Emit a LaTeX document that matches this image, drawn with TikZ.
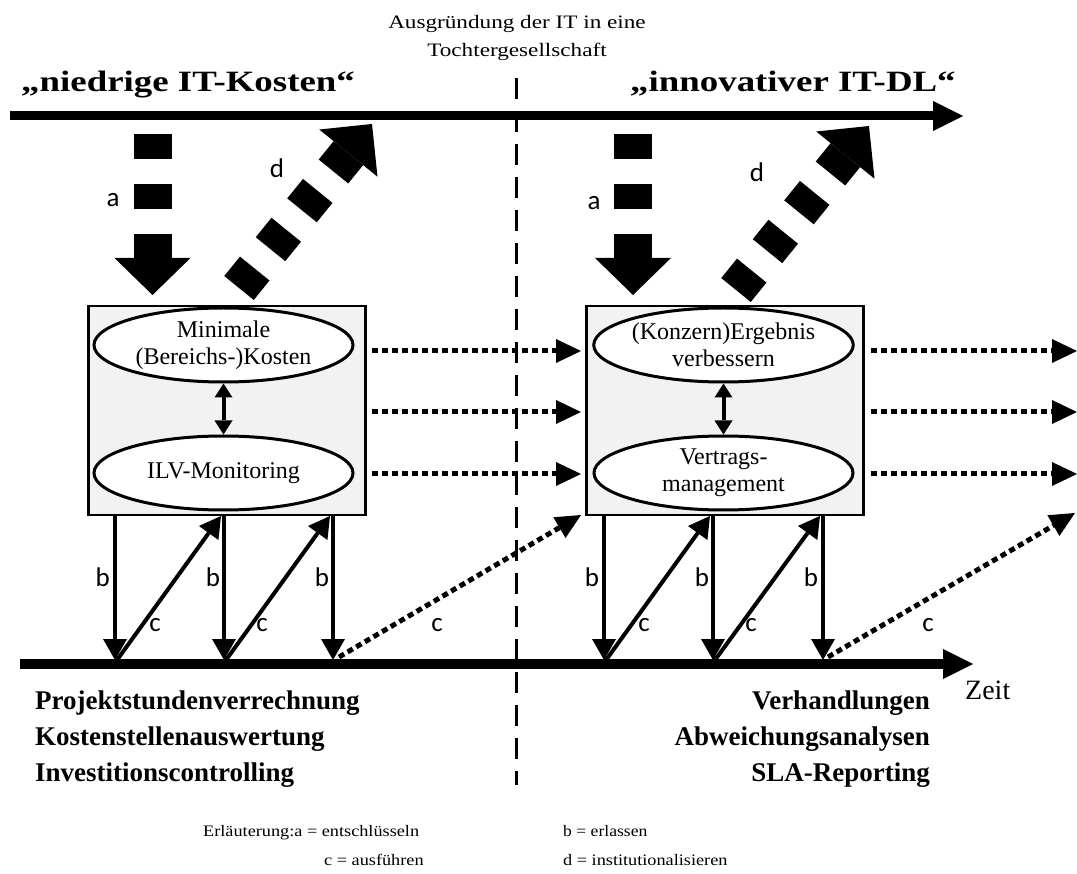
\documentclass[tikz,border=0pt]{standalone}
\usepackage{fontspec}
\setmainfont{Liberation Serif}
\newfontfamily\lblfont{Carlito}
\usetikzlibrary{calc,shapes.geometric}
\definecolor{boxgray}{HTML}{F2F2F2}

% straight connector with a filled triangular head at its end
% #1 style, #2 start, #3 tip, #4 head length, #5 half head width
\newcommand\headarrow[5][]{%
  \path ($(#3)!#4!(#2)$) coordinate (hb);
  \draw[#1] (#2) -- (hb);
  \fill ($(hb)!#5!90:(#3)$) -- (#3) -- ($(hb)!#5!-90:(#3)$) -- cycle;}
% the same with heads at both ends
\newcommand\bothheads[5][]{%
  \path ($(#2)!#4!(#3)$) coordinate (ha) ($(#3)!#4!(#2)$) coordinate (hb);
  \draw[#1] (ha) -- (hb);
  \fill ($(ha)!#5!90:(#2)$) -- (#2) -- ($(ha)!#5!-90:(#2)$) -- cycle;
  \fill ($(hb)!#5!90:(#3)$) -- (#3) -- ($(hb)!#5!-90:(#3)$) -- cycle;}

\tikzset{
  blockdash/.style={line width=38pt, dash pattern=on 25pt off 25pt},
  barrow/.style={line width=4pt},
  dotline/.style={line width=5pt, dash pattern=on 6pt off 4pt},
  divider/.style={line width=3pt, dash pattern=on 21pt off 12pt},
  frame/.style={draw, line width=2.5pt, fill=boxgray, minimum width=277pt,
    minimum height=209pt, inner sep=0pt, anchor=north west},
  goal/.style={ellipse, draw, line width=3pt, fill=white, minimum width=259pt,
    minimum height=74pt, inner sep=0pt, align=center,
    font=\fontsize{24}{27}\selectfont},
  letter/.style={font=\lblfont\fontsize{27}{30}\selectfont, inner sep=0pt},
  title/.style={anchor=base west, inner sep=0pt, font=\bfseries\fontsize{29.5}{34}\selectfont},
  head/.style={anchor=base, inner sep=0pt, font=\fontsize{19}{23}\selectfont},
  tool/.style={inner sep=0pt, font=\bfseries\fontsize{27}{32}\selectfont},
  legend/.style={anchor=base west, inner sep=0pt, font=\fontsize{16}{20}\selectfont},
}

\begin{document}
\begin{tikzpicture}[x=1pt,y=-1pt]
\useasboundingbox (0,0) rectangle (1077,874);

% ---------- headings ----------
\node[head] (hd1) at (517,29) {\scalebox{1.22}[1]{Ausgründung der IT in eine}};
\node[head] (hd2) at (517,57) {\scalebox{1.22}[1]{Tochtergesellschaft}};
\node[title] (t1) at (21,92) {\scalebox{1.25}[1]{„niedrige IT-Kosten“}};
\node[title] (t2) at (630,92) {\scalebox{1.25}[1]{„innovativer IT-DL“}};

% ---------- boxes with goals ----------
\node[frame] (box1) at (87,305) {};
\node[frame] (box2) at (585,305) {};
\node[goal] (g1) at (223.5,345) {Minimale\\(Bereichs-)Kosten};
\node[goal] (m1) at (223.5,473) {ILV-Monitoring};
\node[goal] (g2) at (723.5,345) {(Konzern)Ergebnis\\verbessern};
\node[goal] (m2) at (723.5,473) {Vertrags-\\management};
\bothheads[barrow]{g1.south}{m1.north}{14pt}{9pt}
\bothheads[barrow]{g2.south}{m2.north}{14pt}{9pt}

% ---------- phase divider ----------
\coordinate (divT) at (516,78);
\coordinate (divB) at (516,785);
\draw[divider] (divT) -- (divB);

% ---------- time axes ----------
\coordinate (topL) at (10,116);  \coordinate (topR) at (963,116);
\headarrow[line width=9pt]{topL}{topR}{30pt}{15pt}
\coordinate (botL) at (20,664);  \coordinate (botR) at (973,664);
\headarrow[line width=10pt]{botL}{botR}{30pt}{15pt}
\node[anchor=base west, inner sep=0pt, font=\fontsize{28}{32}\selectfont] (zeit) at (965,699) {Zeit};

% ---------- a: decode (dashed block arrows) ----------
\coordinate (a1s) at (152.5,134); \coordinate (a1t) at (152.5,295);
\coordinate (a2s) at (633,134);   \coordinate (a2t) at (633,295);
\headarrow[blockdash]{a1s}{a1t}{37pt}{38pt}
\headarrow[blockdash]{a2s}{a2t}{37pt}{38pt}
\node[letter] (la1) at (113,200) {a};
\node[letter] (la2) at (594,203) {a};

% ---------- d: institutionalise ----------
\coordinate (d1s) at (239,288); \coordinate (d1t) at (372,124);
\coordinate (d2s) at (736,290); \coordinate (d2t) at (869,126);
\headarrow[blockdash]{d1s}{d1t}{37.5pt}{37.5pt}
\headarrow[blockdash]{d2s}{d2t}{37.5pt}{37.5pt}
\node[letter] (ld1) at (277,168) {d};
\node[letter] (ld2) at (757,172) {d};

% ---------- dotted transfer arrows ----------
\foreach \y [count=\i] in {351,412,474}{
  \coordinate (pL\i) at (372,\y);  \coordinate (qL\i) at (581,\y);
  \coordinate (pR\i) at (871,\y);  \coordinate (qR\i) at (1077,\y);
  \headarrow[dotline]{pL\i}{qL\i}{25pt}{12pt}
  \headarrow[dotline]{pR\i}{qR\i}{25pt}{12pt}
}

% ---------- b: issue (box -> axis) ----------
\foreach \x [count=\i] in {115,224,333,604,713,823}{
  \coordinate (bs\i) at (\x,514);
  \coordinate (bt\i) at (\x,660);
  \headarrow[barrow]{bs\i}{bt\i}{21pt}{12pt}
}
\node[letter] (lb1) at (102.6,577) {b};
\node[letter] (lb2) at (213,577) {b};
\node[letter] (lb3) at (322,577) {b};
\node[letter] (lb4) at (592,577) {b};
\node[letter] (lb5) at (702,577) {b};
\node[letter] (lb6) at (811,577) {b};

% ---------- c: execute (axis -> box) ----------
\coordinate (cs1) at (117,660); \coordinate (ct1) at (221,516);
\coordinate (cs2) at (226,660); \coordinate (ct2) at (330,516);
\coordinate (cs3) at (606,660); \coordinate (ct3) at (710,516);
\coordinate (cs4) at (715,660); \coordinate (ct4) at (820,516);
\foreach \i in {1,...,4}{\headarrow[barrow]{cs\i}{ct\i}{21pt}{12pt}}
\coordinate (ds1) at (339,657); \coordinate (dt1) at (581,515);
\coordinate (ds2) at (828,657); \coordinate (dt2) at (1075,513);
\headarrow[dotline]{ds1}{dt1}{25pt}{12pt}
\headarrow[dotline]{ds2}{dt2}{25pt}{12pt}
\node[letter] (lc1) at (155,625) {c};
\node[letter] (lc2) at (262,625) {c};
\node[letter] (lc3) at (437,625) {c};
\node[letter] (lc4) at (644,625) {c};
\node[letter] (lc5) at (751,625) {c};
\node[letter] (lc6) at (928,625) {c};

% ---------- instruments ----------
\node[tool, anchor=base west] (i1) at (35,709) {Projektstundenverrechnung};
\node[tool, anchor=base west] (i2) at (35,745) {Kostenstellenauswertung};
\node[tool, anchor=base west] (i3) at (35,781) {Investitionscontrolling};
\node[tool, anchor=base east] (j1) at (930,709) {Verhandlungen};
\node[tool, anchor=base east] (j2) at (930,745) {Abweichungsanalysen};
\node[tool, anchor=base east] (j3) at (930,781) {SLA-Reporting};

% ---------- legend ----------
\node[legend] (k1) at (203,836) {\scalebox{1.14}[1]{Erläuterung:a = entschlüsseln}};
\node[legend] (k2) at (324,865) {\scalebox{1.14}[1]{c = ausführen}};
\node[legend] (k3) at (563,836) {\scalebox{1.1}[1]{b = erlassen}};
\node[legend] (k4) at (563,865) {\scalebox{1.14}[1]{d = institutionalisieren}};
\end{tikzpicture}
\end{document}
